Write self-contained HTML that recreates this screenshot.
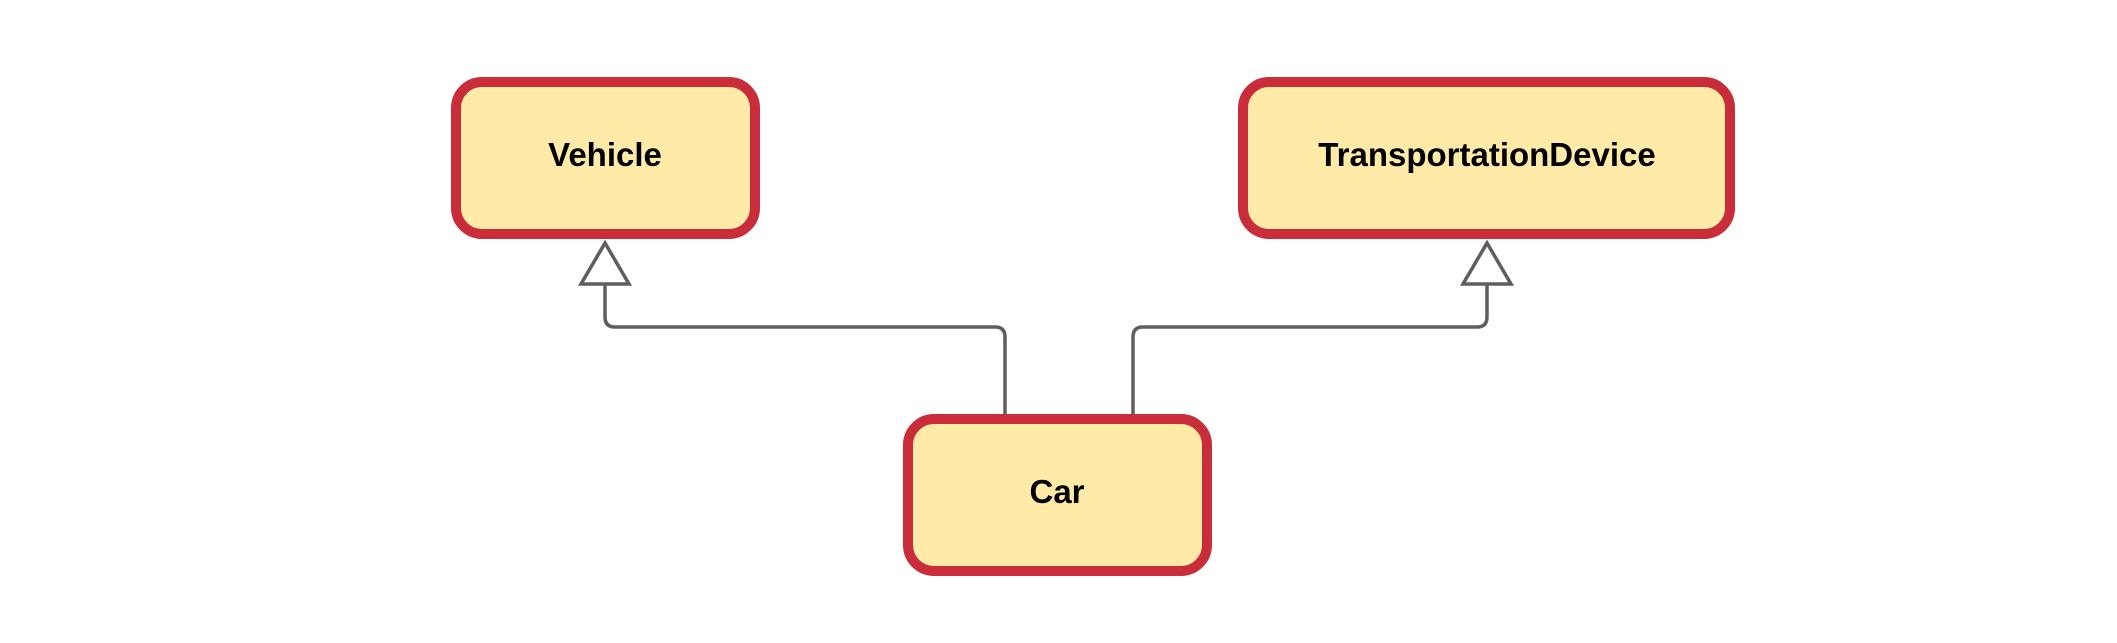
<!DOCTYPE html>
<html><head><style>
html,body{margin:0;padding:0;background:#fff;}
svg{display:block;}
</style></head><body>
<svg width="2117" height="643" xmlns="http://www.w3.org/2000/svg">
<g fill="#ffeaa7" stroke="#c92d39" stroke-width="10">
<rect x="456" y="82" width="299" height="152" rx="26"/>
<rect x="1243" y="82" width="487" height="152" rx="26"/>
<rect x="908" y="419" width="299" height="152" rx="26"/>
</g>
<g fill="none" stroke="#5e5e5e" stroke-width="3.5">
<path d="M605 284 V317 Q605 327 615 327 H995 Q1005 327 1005 337 V414"/>
<path d="M1133 414 V337 Q1133 327 1143 327 H1477 Q1487 327 1487 317 V284"/>
<path d="M605 243 L581 284 H629 Z" fill="#fff"/>
<path d="M1487 243 L1463 284 H1511 Z" fill="#fff"/>
</g>
<g font-family="Liberation Sans, Arial, sans-serif" font-weight="bold" font-size="33" text-anchor="middle" fill="#000">
<text x="605" y="166">Vehicle</text>
<text x="1487" y="166">TransportationDevice</text>
<text x="1057" y="503">Car</text>
</g>
</svg>
</body></html>
